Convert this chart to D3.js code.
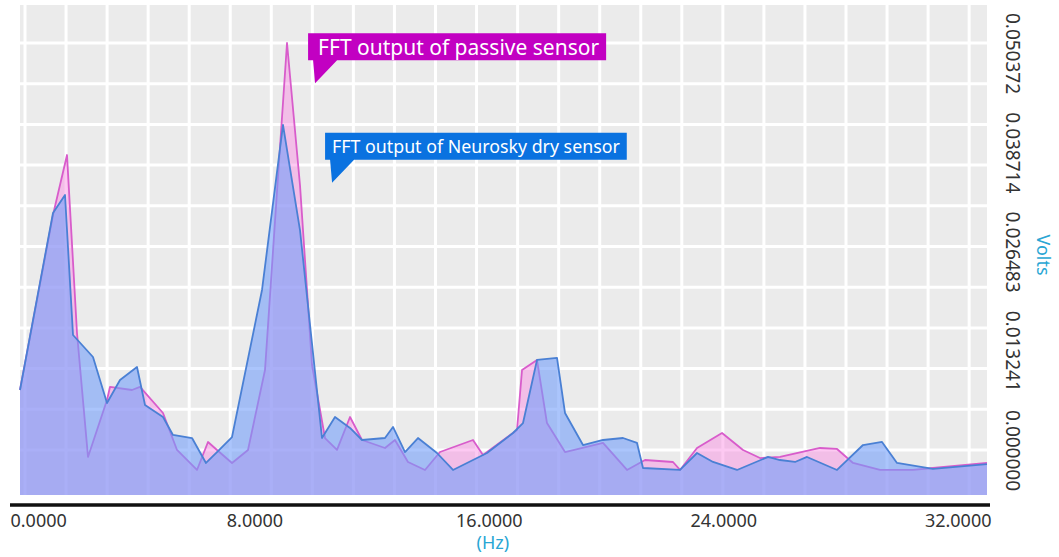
<!DOCTYPE html>
<html>
<head>
<meta charset="utf-8">
<script src="https://cdn.jsdelivr.net/npm/d3@7"></script>
<style>
  body { margin: 0; background: #fff; }
  svg { display: block; font-family: 'Noto Sans', sans-serif; }
</style>
</head>
<body>
<div id="chart"></div>
<script>
// FFT spectra (Hz, volts)
const passiveHz = [0, 1.126, 1.604, 1.945, 2.321, 2.969, 3.071, 3.822, 4.095, 4.880, 5.358, 6.040, 6.416, 6.723, 7.235, 7.781, 8.361, 9.112, 9.555, 9.965, 10.409, 10.818, 11.262, 11.671, 12.456, 12.797, 13.241, 13.821, 14.333, 15.459, 15.800, 16.961, 17.132, 17.643, 17.984, 18.599, 19.896, 20.715, 21.329, 22.284, 22.524, 23.104, 23.957, 24.674, 25.254, 25.936, 27.301, 27.882, 28.428, 29.349, 30.475, 31.157, 33.0];
const passiveVolts = [0.01170, 0.03120, 0.03789, 0.01805, 0.00424, 0.01059, 0.01204, 0.01170, 0.01204, 0.00914, 0.00502, 0.00279, 0.00591, 0.00502, 0.00357, 0.00502, 0.01393, 0.05037, 0.03455, 0.01449, 0.00635, 0.00502, 0.00869, 0.00613, 0.00524, 0.00613, 0.00368, 0.00279, 0.00479, 0.00613, 0.00446, 0.00724, 0.01393, 0.01505, 0.00802, 0.00479, 0.00580, 0.00279, 0.00390, 0.00368, 0.00279, 0.00524, 0.00691, 0.00502, 0.00412, 0.00424, 0.00524, 0.00513, 0.00357, 0.00279, 0.00279, 0.00301, 0.00357];

const neuroskyHz = [0, 1.126, 1.536, 1.809, 2.491, 2.969, 3.413, 3.993, 4.266, 4.880, 5.221, 5.870, 6.347, 6.723, 7.235, 8.259, 8.975, 9.555, 10.306, 10.750, 11.262, 11.671, 12.456, 12.729, 13.139, 13.582, 14.230, 14.777, 15.937, 16.824, 17.166, 17.643, 18.326, 18.599, 19.213, 19.896, 20.578, 21.056, 21.261, 22.524, 23.104, 23.650, 24.469, 25.526, 25.936, 26.448, 26.858, 27.882, 28.768, 29.417, 29.929, 31.157, 33.0];
const neuroskyVolts = [0.01170, 0.03143, 0.03343, 0.01783, 0.01538, 0.01025, 0.01282, 0.01427, 0.01003, 0.00869, 0.00669, 0.00635, 0.00357, 0.00479, 0.00646, 0.02285, 0.04124, 0.02953, 0.00635, 0.00869, 0.00747, 0.00613, 0.00635, 0.00758, 0.00479, 0.00635, 0.00468, 0.00279, 0.00468, 0.00691, 0.00802, 0.01505, 0.01527, 0.00914, 0.00557, 0.00613, 0.00635, 0.00580, 0.00301, 0.00279, 0.00468, 0.00368, 0.00279, 0.00424, 0.00390, 0.00368, 0.00424, 0.00279, 0.00557, 0.00591, 0.00357, 0.00290, 0.00345];

const xTicks = [0, 8, 16, 24, 32];
const yTickLabels = [0.050372, 0.038714, 0.026483, 0.013241, 0.0];

// callout text and where its pointer lands (Hz, volts)
const calloutText = ['FFT output of passive sensor', 'FFT output of Neurosky dry sensor'];
const calloutHz = [10.07, 10.65];
const calloutVolts = [0.0459, 0.0348];

const width = 1059, height = 557;
const plot = { left: 20, right: 987, top: 5, bottom: 495 };

const svg = d3.select('#chart').append('svg')
  .attr('width', width)
  .attr('height', height);

const x = d3.scaleLinear().domain([0, 33]).range([plot.left, plot.right]);
const y = d3.scaleLinear().domain([0, 0.050372]).range([plot.bottom, 43]);

// background + white grid
svg.append('rect')
  .attr('x', plot.left).attr('y', plot.top)
  .attr('width', plot.right - plot.left)
  .attr('height', plot.bottom - plot.top)
  .attr('fill', '#ebebeb');

const cell = 41.05;
const grid = svg.append('g').attr('stroke', '#fff').attr('stroke-width', 3);
grid.selectAll('line.v')
  .data(d3.range(0, 24))
  .enter().append('line')
  .attr('class', 'v')
  .attr('x1', (d) => 25 + d * cell).attr('x2', (d) => 25 + d * cell)
  .attr('y1', plot.top).attr('y2', plot.bottom);
grid.selectAll('line.h')
  .data(d3.range(0, 11))
  .enter().append('line')
  .attr('class', 'h')
  .attr('x1', plot.left).attr('x2', plot.right)
  .attr('y1', (d) => 43 + d * 40.7).attr('y2', (d) => 43 + d * 40.7);

const passive = passiveHz.map((f, i) => ({ f, v: passiveVolts[i] }));
const neurosky = neuroskyHz.map((f, i) => ({ f, v: neuroskyVolts[i] }));

const area = d3.area()
  .x((d) => x(d.f))
  .y0(plot.bottom)
  .y1((d) => y(d.v));
const line = d3.line()
  .x((d) => x(d.f))
  .y((d) => y(d.v));

svg.append('path').datum(passive)
  .attr('d', area)
  .attr('fill', 'rgb(250,135,227)')
  .attr('fill-opacity', 0.45);
svg.append('path').datum(passive)
  .attr('d', line)
  .attr('fill', 'none')
  .attr('stroke', '#d85ccb')
  .attr('stroke-width', 1.8)
  .attr('stroke-linejoin', 'round');

svg.append('path').datum(neurosky)
  .attr('d', area)
  .attr('fill', 'rgb(115,158,250)')
  .attr('fill-opacity', 0.6);
svg.append('path').datum(neurosky)
  .attr('d', line)
  .attr('fill', 'none')
  .attr('stroke', '#4a80d4')
  .attr('stroke-width', 1.8)
  .attr('stroke-linejoin', 'round');

// x axis
const xAxis = svg.append('g')
  .attr('transform', `translate(0,${plot.bottom})`)
  .call(d3.axisBottom(x).tickValues(xTicks).tickSize(0).tickFormat(d3.format('.4f')));
xAxis.select('.domain').remove();
xAxis.selectAll('text')
  .attr('y', 19)
  .attr('dy', '0.71em')
  .style('font-size', '18px')
  .style('fill', '#333')
  .style('font-family', "'Noto Sans', sans-serif");
xAxis.selectAll('.tick').filter((d) => d === 0).select('text')
  .attr('text-anchor', 'start')
  .attr('x', 10 - x(0));

svg.append('line')
  .attr('x1', 10).attr('x2', 990)
  .attr('y1', 505).attr('y2', 505)
  .attr('stroke', '#111')
  .attr('stroke-width', 3.5);

svg.append('text')
  .attr('x', x(16) + 4)
  .attr('y', 549)
  .attr('text-anchor', 'middle')
  .style('font-size', '18px')
  .style('fill', '#29a6d4')
  .text('(Hz)');

// y labels, evenly spread down the right side
const yLab = d3.scalePoint().domain(yTickLabels).range([53, 450]);
const yAxis = svg.append('g')
  .attr('transform', 'translate(1013,0)')
  .call(d3.axisRight(yLab).tickSize(0).tickFormat((d) => d.toFixed(6)));
yAxis.select('.domain').remove();
yAxis.selectAll('text')
  .attr('x', 0)
  .attr('dy', null)
  .attr('text-anchor', 'middle')
  .attr('dominant-baseline', 'central')
  .attr('transform', 'rotate(90)')
  .style('font-size', '19px')
  .style('fill', '#333')
  .style('font-family', "'Noto Sans', sans-serif");

svg.append('text')
  .attr('transform', 'translate(1044,255) rotate(90)')
  .attr('text-anchor', 'middle')
  .attr('dominant-baseline', 'central')
  .style('font-size', '18px')
  .style('fill', '#29a6d4')
  .text('Volts');

// callouts
const calloutColor = ['#c200c2', '#0a72e0'];
const calloutSize = [21, 17.8];
const calloutPad = [10, 7];
calloutText.forEach((t, i) => {
  const tx = x(calloutHz[i]);
  const ty = y(calloutVolts[i]);
  const g = svg.append('g');
  const path = g.append('path').attr('fill', calloutColor[i]);
  const label = g.append('text')
    .attr('x', tx - 7 + calloutPad[i])
    .attr('y', ty - 36.5)
    .attr('dominant-baseline', 'central')
    .style('font-size', calloutSize[i] + 'px')
    .style('fill', '#fff')
    .text(t);
  const w = label.node().getComputedTextLength();
  const left = tx - 7, right = left + calloutPad[i] + w + 7;
  const top = ty - 50, bottom = ty - 23;
  path.attr('d', `M${left},${top}H${right}V${bottom}H${tx + 22}L${tx},${ty}L${tx - 2},${bottom}H${left}Z`);
});
</script>
</body>
</html>
